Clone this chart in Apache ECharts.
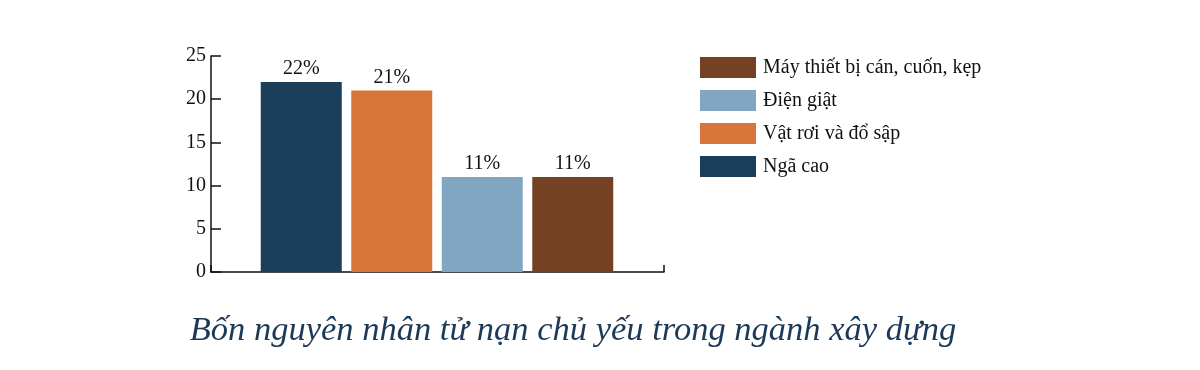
<!DOCTYPE html>
<html><head><meta charset="utf-8">
<script src="https://cdn.jsdelivr.net/npm/echarts@6/dist/echarts.min.js"></script>
<style>html,body{margin:0;padding:0;background:#fff}#c{width:1200px;height:370px}</style>
</head><body><div id="c"></div>
<script>
const categories = ['Ngã cao', 'Vật rơi và đổ sập', 'Điện giật', 'Máy thiết bị cán, cuốn, kẹp'];
const values = [22, 21, 11, 11];
const colors = ['#1b3f5a', '#d9743a', '#81a6c2', '#744223'];
const legendOrder = ['Máy thiết bị cán, cuốn, kẹp', 'Điện giật', 'Vật rơi và đổ sập', 'Ngã cao'];
const yTicks = [0, 5, 10, 15, 20, 25];
const titleText = 'Bốn nguyên nhân tử nạn chủ yếu trong ngành xây dựng';

const serif = '"Liberation Serif","DejaVu Serif",serif';
const series = categories.map((name, i) => ({
  name, type: 'bar', stack: 'all', xAxisIndex: 1, yAxisIndex: 1,
  barWidth: 81,
  itemStyle: { color: colors[i] },
  data: categories.map((c, j) => j === i ? values[i] : '-'),
  label: { show: true, position: 'top', distance: 3, formatter: '{c}%', fontFamily: serif, fontSize: 20, color: '#111' }
}));

const chart = echarts.init(document.getElementById('c'), null, { renderer: 'canvas' });
chart.setOption({
  animation: false,
  title: { text: titleText, left: 568, textAlign: 'center', top: 308,
    textStyle: { fontFamily: serif, fontStyle: 'italic', fontWeight: 'normal', fontSize: 34.5, color: '#1c3a58' } },
  legend: {
    orient: 'vertical', left: 695, top: 52, itemWidth: 56, itemHeight: 21, itemGap: 12,
    data: legendOrder, icon: 'rect',
    textStyle: { fontFamily: serif, fontSize: 20, color: '#111', padding: [0, 0, 0, 2] }
  },
  grid: [
    { left: 211, top: 56, width: 453, height: 216 },
    { left: 256, top: 56, width: 362, height: 216 }
  ],
  xAxis: [
    { gridIndex: 0, type: 'value', min: 0, max: 1, interval: 1,
      axisLine: { show: true, lineStyle: { color: '#111', width: 1.5 } },
      axisTick: { show: true, inside: true, length: 7, lineStyle: { color: '#111', width: 1.5 } },
      axisLabel: { show: false }, splitLine: { show: false } },
    { gridIndex: 1, type: 'category', data: categories, show: false }
  ],
  yAxis: [
    { gridIndex: 0, type: 'value', min: 0, max: 25, interval: 5,
      axisLine: { show: true, lineStyle: { color: '#111', width: 1.5 } },
      axisTick: { show: true, inside: true, length: 10, lineStyle: { color: '#111', width: 1.5 } },
      axisLabel: { fontFamily: serif, fontSize: 20, color: '#111', margin: 5,
        formatter: v => yTicks.includes(v) ? String(v) : '' },
      splitLine: { show: false } },
    { gridIndex: 1, type: 'value', min: 0, max: 25, interval: 5, show: false }
  ],
  series
});
</script></body></html>
